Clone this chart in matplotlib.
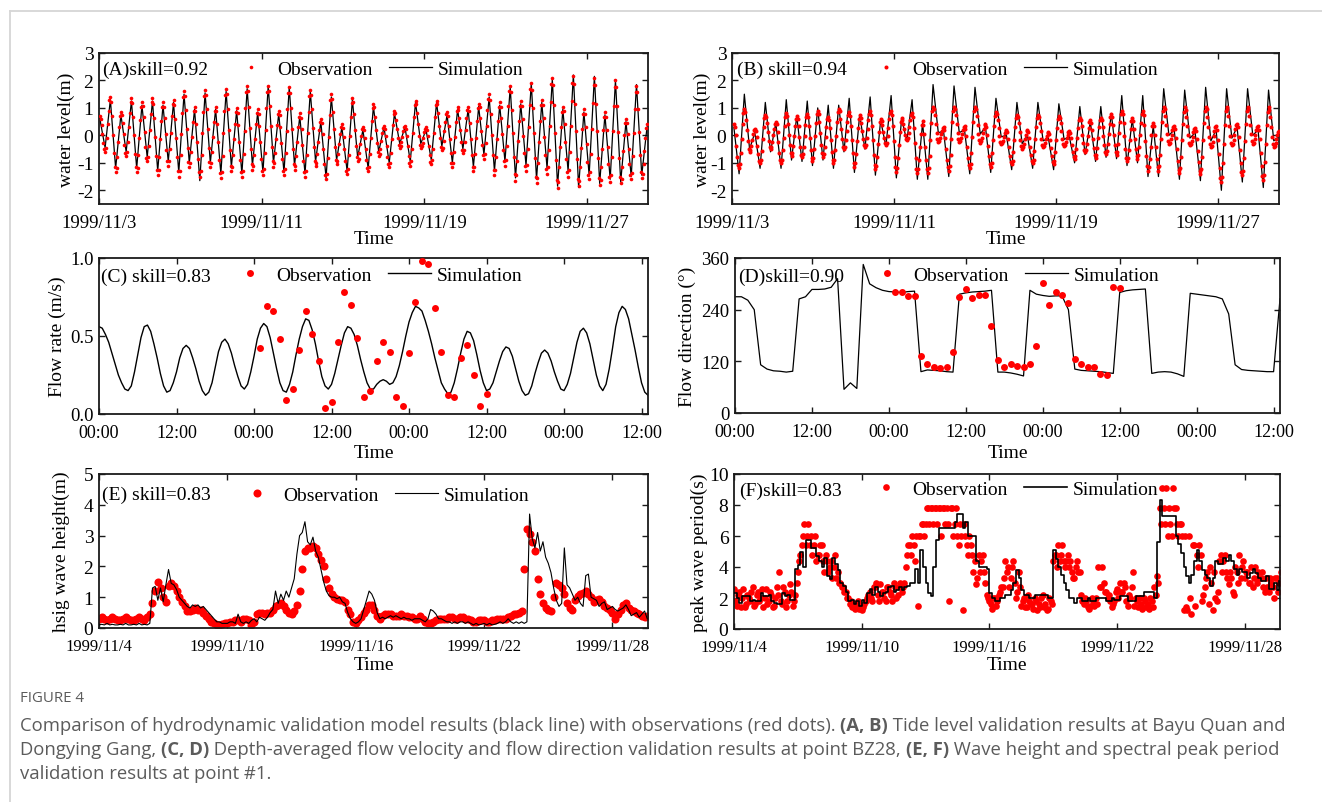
import numpy as np
import matplotlib
matplotlib.use("Agg")
import matplotlib.pyplot as plt
import matplotlib.dates as mdates
from matplotlib.lines import Line2D
from matplotlib.ticker import FixedLocator, FixedFormatter

# ---------------------------------------------------------------- data
# (A) Bayu Quan tide level: simulated high/low waters (6.21 h apart, from 01:00 on 11/3)
a_sim = [0.6, -0.45, 1.3, -1.2, 0.75, -0.6, 1.25, -1.2, 1.1, -0.8,
         1.25, -1.3, 1.1, -0.95, 1.2, -1.35, 1.5, -1.0, 0.95, -1.65,
         1.55, -1.0, 0.95, -1.4, 1.6, -1.15, 0.9, -1.4, 1.7, -1.1,
         0.85, -1.35, 1.8, -1.0, 0.8, -1.35, 1.75, -1.1, 0.7, -1.4,
         1.6, -0.95, 0.5, -1.55, 1.4, -0.9, 0.3, -1.3, 1.3, -0.8,
         0.2, -1.2, 1.05, -0.6, 0.3, -1.0, 0.8, -0.3, 0.3, -0.95,
         1.2, -0.3, 0.2, -0.9, 1.2, -0.4, 0.75, -1.0, 0.95, -0.5,
         0.95, -1.15, 1.05, -0.7, 1.4, -1.3, 1.1, -0.95, 1.75, -1.55,
         1.15, -1.1, 1.9, -1.6, 1.2, -1.2, 2.05, -1.85, 0.95, -1.3,
         2.2, -1.9, 0.85, -1.45, 2.15, -1.75, 0.75, -1.6, 2.0, -1.7,
         0.5, -1.5, 1.85, -1.45, 0.3]
# (A) observed tide level, every 2.07 h from 01:00 on 11/3
a_obs = [0.7, 0.38, -0.28, -0.6, -0.1, 0.9, 1.4, 0.71, -0.66, -1.35, -0.8, 0.3,
         0.85, 0.45, -0.35, -0.75, -0.23, 0.83, 1.35, 0.68, -0.68, -1.35, -0.71, 0.56,
         1.2, 0.66, -0.41, -0.95, -0.38, 0.78, 1.35, 0.65, -0.75, -1.45, -0.79, 0.54,
         1.2, 0.63, -0.53, -1.1, -0.5, 0.7, 1.3, 0.6, -0.8, -1.5, -0.73, 0.83,
         1.6, 0.91, -0.46, -1.15, -0.6, 0.5, 1.05, 0.41, -0.86, -1.5, -0.71, 0.86,
         1.65, 0.95, -0.45, -1.15, -0.6, 0.5, 1.05, 0.4, -0.9, -1.55, -0.74, 0.89,
         1.7, 0.95, -0.55, -1.3, -0.73, 0.43, 1.0, 0.38, -0.88, -1.5, -0.68, 0.98,
         1.8, 1.04, -0.49, -1.25, -0.7, 0.4, 0.95, 0.35, -0.85, -1.45, -0.64, 0.99,
         1.8, 1.06, -0.41, -1.15, -0.64, 0.39, 0.9, 0.31, -0.86, -1.45, -0.65, 0.95,
         1.75, 1.0, -0.5, -1.25, -0.74, 0.29, 0.8, 0.23, -0.93, -1.5, -0.71, 0.86,
         1.65, 0.96, -0.41, -1.1, -0.68, 0.18, 0.6, 0.05, -1.05, -1.6, -0.83, 0.73,
         1.5, 0.86, -0.41, -1.05, -0.69, 0.04, 0.4, -0.05, -0.95, -1.4, -0.71, 0.66,
         1.35, 0.78, -0.38, -0.95, -0.64, -0.01, 0.3, -0.1, -0.9, -1.3, -0.69, 0.54,
         1.15, 0.68, -0.28, -0.75, -0.48, 0.08, 0.35, -0.03, -0.78, -1.15, -0.64, 0.39,
         0.9, 0.56, -0.11, -0.45, -0.25, 0.15, 0.35, -0.01, -0.74, -1.1, -0.51, 0.66,
         1.25, 0.83, -0.03, -0.45, -0.26, 0.11, 0.3, -0.04, -0.71, -1.05, -0.48, 0.68,
         1.25, 0.8, -0.1, -0.55, -0.2, 0.5, 0.85, 0.35, -0.65, -1.15, -0.6, 0.5,
         1.05, 0.63, -0.23, -0.65, -0.23, 0.63, 1.05, 0.46, -0.71, -1.3, -0.69, 0.54,
         1.15, 0.65, -0.35, -0.85, -0.26, 0.91, 1.5, 0.76, -0.71, -1.45, -0.79, 0.54,
         1.2, 0.63, -0.53, -1.1, -0.38, 1.08, 1.8, 0.94, -0.79, -1.65, -0.93, 0.53,
         1.25, 0.61, -0.66, -1.3, -0.5, 1.1, 1.9, 0.99, -0.84, -1.75, -0.99, 0.54,
         1.3, 0.63, -0.73, -1.4, -0.53, 1.23, 2.1, 1.1, -0.9, -1.9, -1.16, 0.31,
         1.05, 0.41, -0.86, -1.5, -0.59, 1.24, 2.15, 1.15, -0.85, -1.85, -1.15, 0.25,
         0.95, 0.31, -0.96, -1.6, -0.68, 1.18, 2.1, 1.13, -0.83, -1.8, -1.14, 0.19,
         0.85, 0.21, -1.06, -1.7, -0.78, 1.08, 2.0, 1.06, -0.81, -1.75, -1.16, 0.01,
         0.6, 0.05, -1.05, -1.6, -0.75, 0.95, 1.8, 0.96, -0.71, -1.55, -1.06, -0.09,
         0.4]
# (A) observed tide level, the in-between readings (every 2.07 h from 02:02 on 11/3)
a_obs_mid = [0.61, 0.05, -0.51, -0.47, 0.4, 1.27, 1.22, 0.03, -1.17, -1.2, -0.25, 0.7,
             0.74, 0.05, -0.64, -0.61, 0.3, 1.21, 1.17, 0.0, -1.17, -1.18, -0.08, 1.03,
             1.06, 0.13, -0.81, -0.8, 0.2, 1.2, 1.16, -0.05, -1.26, -1.27, -0.13, 1.02,
             1.05, 0.05, -0.95, -0.94, 0.1, 1.14, 1.11, -0.1, -1.31, -1.29, 0.05, 1.39,
             1.42, 0.23, -0.97, -1.0, -0.05, 0.9, 0.88, -0.23, -1.33, -1.29, 0.08, 1.44,
             1.46, 0.25, -0.96, -1.0, -0.05, 0.9, 0.88, -0.25, -1.38, -1.33, 0.08, 1.48,
             1.5, 0.2, -1.1, -1.15, -0.15, 0.85, 0.83, -0.25, -1.33, -1.28, 0.15, 1.58,
             1.6, 0.28, -1.05, -1.1, -0.15, 0.8, 0.79, -0.25, -1.29, -1.23, 0.18, 1.58,
             1.6, 0.33, -0.95, -1.01, -0.13, 0.76, 0.74, -0.28, -1.29, -1.24, 0.15, 1.54,
             1.55, 0.25, -1.05, -1.11, -0.23, 0.66, 0.65, -0.35, -1.35, -1.29, 0.08, 1.44,
             1.47, 0.28, -0.92, -0.99, -0.25, 0.49, 0.45, -0.5, -1.45, -1.39, -0.05, 1.29,
             1.33, 0.23, -0.88, -0.95, -0.33, 0.3, 0.28, -0.5, -1.28, -1.22, -0.03, 1.17,
             1.2, 0.2, -0.8, -0.87, -0.33, 0.22, 0.19, -0.5, -1.19, -1.14, -0.08, 0.99,
             1.02, 0.2, -0.62, -0.68, -0.2, 0.28, 0.25, -0.4, -1.05, -1.01, -0.13, 0.76,
             0.81, 0.23, -0.36, -0.4, -0.05, 0.3, 0.25, -0.38, -1.0, -0.94, 0.08, 1.09,
             1.14, 0.4, -0.34, -0.4, -0.08, 0.25, 0.21, -0.38, -0.96, -0.9, 0.1, 1.1,
             1.13, 0.35, -0.43, -0.46, 0.15, 0.76, 0.72, -0.15, -1.02, -1.0, -0.05, 0.9,
             0.94, 0.2, -0.54, -0.54, 0.2, 0.94, 0.89, -0.13, -1.14, -1.14, -0.08, 0.99,
             1.02, 0.15, -0.72, -0.69, 0.33, 1.34, 1.3, 0.03, -1.25, -1.27, -0.13, 1.02,
             1.05, 0.05, -0.95, -0.91, 0.35, 1.61, 1.57, 0.08, -1.42, -1.46, -0.2, 1.06,
             1.08, -0.03, -1.13, -1.09, 0.3, 1.69, 1.66, 0.08, -1.51, -1.55, -0.23, 1.1,
             1.12, -0.05, -1.22, -1.17, 0.35, 1.87, 1.83, 0.1, -1.63, -1.7, -0.43, 0.85,
             0.88, -0.23, -1.33, -1.26, 0.33, 1.91, 1.88, 0.15, -1.58, -1.66, -0.45, 0.76,
             0.78, -0.33, -1.43, -1.35, 0.25, 1.85, 1.84, 0.15, -1.54, -1.62, -0.48, 0.67,
             0.68, -0.43, -1.53, -1.45, 0.15, 1.75, 1.75, 0.13, -1.5, -1.59, -0.58, 0.44,
             0.45, -0.5, -1.45, -1.37, 0.1, 1.57, 1.58, 0.13, -1.33, -1.42, -0.58, 0.27]

# (B) Dongying Gang tide level: simulated turning points (6.21 h apart, from 02:12 on 11/3)
b_sim = [0.3, -1.4, 1.5, -0.5, 0.1, -1.2, 1.2, -0.6, 0.45, -1.2, 1.3, -0.9,
         0.7, -0.95, 1.25, -1.1, 1.0, -0.9, 1.1, -1.2, 1.1, -0.6, 1.35, -1.35,
         0.75, -0.5, 1.4, -1.45, 0.55, -0.4, 1.45, -1.55, 0.6, -0.2, 1.3, -1.6,
         0.45, -1.6, 1.85, 0.1, 0.15, -1.5, 1.8, 0.1, 0.2, -1.4, 1.75, 0.05,
         0.3, -1.35, 1.35, -0.05, 0.0, -1.25, 1.2, -0.3, 0.0, -1.2, 1.2, -0.2,
         -0.1, -1.25, 1.15, -0.15, -0.05, -1.0, 1.05, -0.7, 0.5, -0.95, 1.05, -0.8,
         0.8, -0.85, 1.45, -1.1, 0.6, -1.0, 1.45, -1.5, 0.35, -1.5, 1.7, 0.0,
         0.2, -1.6, 1.65, -0.1, 0.1, -1.65, 1.75, -0.2, 0.2, -2.0, 1.7, -0.1,
         0.3, -1.7, 1.7, 0.0, 0.2, -1.9, 1.65, -0.2, -0.05]
# (B) observed tide level, every 2.07 h from 02:12 on 11/3
b_obs = [0.4, 0.0, -0.8, -1.2, -0.66, 0.41, 0.95, 0.56, -0.21, -0.6, -0.39, 0.04,
         0.25, -0.06, -0.69, -1.0, -0.56, 0.31, 0.75, 0.44, -0.19, -0.5, -0.25, 0.25,
         0.5, 0.13, -0.63, -1.0, -0.55, 0.35, 0.8, 0.41, -0.36, -0.75, -0.39, 0.34,
         0.7, 0.33, -0.43, -0.8, -0.41, 0.39, 0.78, 0.35, -0.52, -0.95, -0.49, 0.44,
         0.9, 0.48, -0.35, -0.77, -0.41, 0.32, 0.68, 0.26, -0.6, -1.02, -0.52, 0.47,
         0.97, 0.6, -0.14, -0.51, -0.17, 0.5, 0.84, 0.34, -0.65, -1.15, -0.68, 0.26,
         0.73, 0.44, -0.14, -0.43, -0.11, 0.55, 0.87, 0.35, -0.71, -1.23, -0.78, 0.14,
         0.59, 0.36, -0.11, -0.34, -0.03, 0.59, 0.9, 0.35, -0.77, -1.32, -0.84, 0.14,
         0.62, 0.42, 0.03, -0.17, 0.08, 0.57, 0.81, 0.27, -0.82, -1.36, -0.89, 0.05,
         0.52, 0.05, -0.89, -1.36, -0.76, 0.45, 1.05, 0.73, 0.08, -0.24, -0.1, 0.17,
         0.31, -0.09, -0.88, -1.28, -0.7, 0.47, 1.05, 0.73, 0.08, -0.24, -0.1, 0.2,
         0.34, -0.04, -0.81, -1.19, -0.63, 0.49, 1.05, 0.72, 0.06, -0.27, -0.1, 0.24,
         0.41, 0.02, -0.76, -1.15, -0.65, 0.34, 0.84, 0.55, -0.04, -0.33, -0.2, 0.07,
         0.2, -0.12, -0.75, -1.06, -0.61, 0.29, 0.74, 0.44, -0.18, -0.48, -0.31, 0.03,
         0.2, -0.11, -0.72, -1.02, -0.58, 0.3, 0.74, 0.45, -0.13, -0.42, -0.28, -0.01,
         0.13, -0.17, -0.76, -1.06, -0.62, 0.27, 0.71, 0.44, -0.12, -0.39, -0.25, 0.03,
         0.17, -0.09, -0.6, -0.85, -0.48, 0.28, 0.65, 0.34, -0.29, -0.6, -0.31, 0.26,
         0.55, 0.21, -0.47, -0.81, -0.45, 0.29, 0.65, 0.32, -0.35, -0.68, -0.32, 0.4,
         0.76, 0.39, -0.35, -0.72, -0.32, 0.5, 0.9, 0.44, -0.48, -0.94, -0.55, 0.23,
         0.62, 0.25, -0.48, -0.85, -0.41, 0.46, 0.9, 0.36, -0.74, -1.28, -0.85, 0.02,
         0.45, 0.02, -0.85, -1.28, -0.7, 0.47, 1.05, 0.71, 0.04, -0.3, -0.14, 0.18,
         0.34, -0.09, -0.94, -1.36, -0.77, 0.43, 1.02, 0.68, 0.0, -0.36, -0.2, 0.11,
         0.27, -0.15, -0.98, -1.4, -0.79, 0.44, 1.05, 0.68, -0.05, -0.42, -0.23, 0.15,
         0.34, -0.17, -1.19, -1.7, -1.01, 0.36, 1.05, 0.7, -0.01, -0.36, -0.17, 0.22,
         0.41, -0.06, -0.99, -1.45, -0.83, 0.43, 1.05, 0.71, 0.04, -0.3, -0.14, 0.18,
         0.34, -0.15, -1.13, -1.62, -0.96, 0.36, 1.02, 0.66, -0.06, -0.42, -0.27, 0.02,
         0.17]
# (B) observed tide level, the in-between readings (every 2.07 h from 03:14 on 11/3)
b_obs_mid = [0.29, -0.4, -1.09, -1.06, -0.13, 0.81, 0.85, 0.18, -0.5, -0.54, -0.18, 0.19,
             0.17, -0.38, -0.92, -0.88, -0.13, 0.63, 0.67, 0.13, -0.42, -0.43, 0.0, 0.43,
             0.4, -0.25, -0.9, -0.88, -0.1, 0.68, 0.7, 0.03, -0.65, -0.65, -0.03, 0.6,
             0.6, -0.05, -0.7, -0.69, -0.01, 0.67, 0.66, -0.09, -0.83, -0.83, -0.03, 0.78,
             0.79, 0.07, -0.66, -0.67, -0.05, 0.58, 0.57, -0.17, -0.91, -0.89, -0.03, 0.84,
             0.87, 0.23, -0.41, -0.42, 0.17, 0.75, 0.71, -0.16, -1.02, -1.02, -0.21, 0.6,
             0.65, 0.15, -0.35, -0.34, 0.22, 0.78, 0.73, -0.18, -1.09, -1.11, -0.32, 0.47,
             0.53, 0.13, -0.28, -0.26, 0.28, 0.82, 0.75, -0.21, -1.17, -1.19, -0.35, 0.49,
             0.57, 0.23, -0.12, -0.1, 0.32, 0.75, 0.66, -0.28, -1.22, -1.23, -0.42, 0.39,
             0.39, -0.42, -1.23, -1.2, -0.16, 0.89, 0.96, 0.41, -0.15, -0.2, 0.04, 0.27,
             0.2, -0.49, -1.17, -1.12, -0.12, 0.89, 0.96, 0.41, -0.15, -0.2, 0.05, 0.3,
             0.24, -0.43, -1.09, -1.04, -0.07, 0.9, 0.96, 0.39, -0.18, -0.22, 0.07, 0.36,
             0.31, -0.37, -1.05, -1.02, -0.16, 0.71, 0.76, 0.26, -0.25, -0.29, -0.07, 0.16,
             0.12, -0.43, -0.98, -0.94, -0.16, 0.62, 0.66, 0.13, -0.4, -0.43, -0.14, 0.15,
             0.12, -0.41, -0.94, -0.9, -0.14, 0.62, 0.66, 0.16, -0.34, -0.38, -0.15, 0.09,
             0.05, -0.47, -0.98, -0.94, -0.18, 0.59, 0.64, 0.16, -0.32, -0.35, -0.11, 0.13,
             0.1, -0.34, -0.78, -0.75, -0.1, 0.55, 0.57, 0.03, -0.52, -0.52, -0.03, 0.47,
             0.46, -0.13, -0.72, -0.71, -0.08, 0.55, 0.56, -0.02, -0.59, -0.58, 0.04, 0.66,
             0.66, 0.02, -0.62, -0.61, 0.09, 0.79, 0.78, -0.02, -0.82, -0.84, -0.16, 0.52,
             0.52, -0.12, -0.75, -0.73, 0.03, 0.78, 0.75, -0.19, -1.13, -1.16, -0.42, 0.33,
             0.33, -0.42, -1.16, -1.12, -0.12, 0.89, 0.96, 0.38, -0.21, -0.26, 0.02, 0.3,
             0.23, -0.51, -1.25, -1.2, -0.17, 0.86, 0.93, 0.33, -0.27, -0.32, -0.05, 0.23,
             0.16, -0.57, -1.29, -1.24, -0.18, 0.89, 0.95, 0.32, -0.32, -0.37, -0.04, 0.29,
             0.2, -0.68, -1.56, -1.52, -0.33, 0.87, 0.96, 0.35, -0.27, -0.31, 0.03, 0.36,
             0.29, -0.52, -1.33, -1.28, -0.2, 0.88, 0.96, 0.38, -0.21, -0.26, 0.02, 0.3,
             0.21, -0.64, -1.49, -1.44, -0.3, 0.84, 0.92, 0.3, -0.32, -0.38, -0.13, 0.13]

# (C) depth-averaged flow speed at BZ28, every half hour
c_sim = [0.56, 0.55, 0.51, 0.46, 0.39, 0.32, 0.25, 0.20, 0.16, 0.15,
         0.18, 0.27, 0.38, 0.49, 0.56, 0.57, 0.53, 0.45, 0.36, 0.26,
         0.18, 0.14, 0.15, 0.20, 0.27, 0.36, 0.42, 0.44, 0.42, 0.36,
         0.29, 0.21, 0.15, 0.12, 0.14, 0.20, 0.30, 0.40, 0.46, 0.48,
         0.45, 0.39, 0.31, 0.24, 0.18, 0.16, 0.19, 0.27, 0.37, 0.48,
         0.55, 0.58, 0.56, 0.49, 0.39, 0.29, 0.20, 0.15, 0.14, 0.19,
         0.27, 0.38, 0.48, 0.56, 0.61, 0.60, 0.54, 0.45, 0.34, 0.24,
         0.18, 0.16, 0.19, 0.26, 0.35, 0.44, 0.52, 0.56, 0.55, 0.51,
         0.44, 0.35, 0.27, 0.20, 0.16, 0.16, 0.19, 0.21, 0.22, 0.21,
         0.19, 0.20, 0.24, 0.31, 0.40, 0.50, 0.59, 0.65, 0.69, 0.68,
         0.66, 0.60, 0.53, 0.45, 0.36, 0.28, 0.20, 0.16, 0.13, 0.14,
         0.20, 0.29, 0.39, 0.48, 0.53, 0.52, 0.47, 0.38, 0.28, 0.20,
         0.15, 0.16, 0.20, 0.27, 0.34, 0.40, 0.43, 0.42, 0.37, 0.29,
         0.21, 0.15, 0.12, 0.13, 0.18, 0.26, 0.33, 0.39, 0.41, 0.39,
         0.34, 0.27, 0.21, 0.16, 0.15, 0.19, 0.26, 0.36, 0.46, 0.53,
         0.55, 0.52, 0.45, 0.35, 0.25, 0.18, 0.15, 0.19, 0.29, 0.42,
         0.56, 0.65, 0.69, 0.67, 0.61, 0.51, 0.41, 0.30, 0.20, 0.14,
         0.12]
c_obs_start = 25
c_obs = [0.42, 0.69, 0.66, 0.48, 0.09, 0.16, 0.41, 0.66, 0.51, 0.34, 0.04, 0.08,
         0.46, 0.78, 0.70, 0.49, 0.11, 0.15, 0.34, 0.46, 0.40, 0.11, 0.05, 0.39,
         0.72, 0.98, 0.96, 0.68, 0.40, 0.12, 0.11, 0.36, 0.44, 0.25, 0.05, 0.13]

# (D) flow direction at BZ28, hourly (degrees)
d_sim = [270, 270, 262, 240, 112, 102, 98, 97, 95, 97,
         265, 270, 287, 287, 288, 292, 312, 55, 70, 57,
         345, 300, 291, 285, 282, 281, 280, 282, 283, 96,
         100, 99, 98, 96, 95, 276, 279, 281, 282, 283,
         285, 95, 95, 93, 90, 86, 285, 276, 273, 271,
         272, 272, 240, 102, 99, 98, 97, 96, 94, 92,
         280, 284, 286, 287, 288, 92, 95, 96, 95, 91,
         85, 278, 276, 274, 272, 270, 265, 230, 112, 101,
         99, 98, 97, 96, 96, 265]
d_obs_start = 25
d_obs = [282, 282, 272, 272, 133, 114, 107, 104, 107, 141, 270, 287,
         267, 273, 275, 201, 124, 107, 114, 109, 107, 114, 155, 303,
         251, 280, 274, 256, 125, 113, 108, 108, 91, 89, 292, 290]
cd_ticks = [0, 12, 24, 36, 48, 60, 72, 84]
cd_tick_labels = ["00:00", "12:00", "00:00", "12:00", "00:00", "12:00", "00:00", "12:00"]

# (E) significant wave height at point #1, 3-hourly from 11/4
e_obs = [0.3, 0.35, 0.3, 0.25, 0.3, 0.35, 0.3, 0.25,
         0.25, 0.3, 0.35, 0.3, 0.25, 0.25, 0.3, 0.35,
         0.3, 0.25, 0.35, 0.45, 0.8, 1.2, 1.5, 1.3,
         1.0, 0.85, 1.35, 1.45, 1.35, 1.2, 1.0, 0.85,
         0.7, 0.55, 0.55, 0.6, 0.65, 0.6, 0.6, 0.5,
         0.4, 0.3, 0.2, 0.15, 0.1, 0.1, 0.12, 0.15,
         0.15, 0.2, 0.2, 0.25, 0.25, 0.2, 0.3, 0.3,
         0.25, 0.1, 0.2, 0.45, 0.5, 0.5, 0.45, 0.5,
         0.5, 0.6, 0.7, 0.75, 0.8, 0.7, 0.6, 0.5,
         0.45, 0.55, 0.75, 1.2, 1.9, 2.5, 2.6, 2.6,
         2.65, 2.6, 2.4, 2.2, 2.0, 1.6, 1.3, 1.1,
         1.0, 0.95, 0.9, 0.9, 0.85, 0.6, 0.45, 0.2,
         0.15, 0.25, 0.35, 0.5, 0.6, 0.75, 0.75, 0.6,
         0.4, 0.3, 0.4, 0.45, 0.45, 0.45, 0.4, 0.4,
         0.4, 0.45, 0.4, 0.4, 0.35, 0.35, 0.3, 0.3,
         0.4, 0.3, 0.2, 0.15, 0.15, 0.2, 0.25, 0.3,
         0.3, 0.3, 0.3, 0.35, 0.35, 0.3, 0.3, 0.35,
         0.35, 0.3, 0.3, 0.25, 0.2, 0.2, 0.25, 0.25,
         0.25, 0.2, 0.2, 0.25, 0.25, 0.3, 0.3, 0.3,
         0.3, 0.35, 0.4, 0.45, 0.45, 0.5, 0.55, 1.9,
         3.2, 3.05, 2.8, 2.5, 1.6, 1.1, 0.8, 0.65,
         0.6, 0.55, 1.0, 1.45, 1.4, 1.3, 1.1, 0.8,
         0.65, 0.6, 0.9, 1.05, 1.1, 1.15, 1.2, 1.1,
         1.0, 0.85, 0.9, 0.95, 0.85, 0.7, 0.65, 0.6,
         0.5, 0.3, 0.45, 0.6, 0.75, 0.8, 0.65, 0.6,
         0.55, 0.5, 0.45, 0.4, 0.35, 0.4]
e_sim = [0.1, 0.12, 0.1, 0.15, 0.1, 0.12, 0.1, 0.1,
         0.12, 0.1, 0.15, 0.1, 0.1, 0.12, 0.1, 0.15,
         0.1, 0.12, 0.1, 0.15, 1.3, 1.35, 0.9, 1.3,
         0.85, 1.4, 1.9, 1.45, 1.4, 1.25, 1.0, 0.9,
         0.8, 0.7, 0.65, 0.75, 0.7, 0.75, 0.65, 0.7,
         0.6, 0.5, 0.4, 0.3, 0.2, 0.2, 0.15, 0.15,
         0.15, 0.2, 0.2, 0.15, 0.45, 0.2, 0.15, 0.2,
         0.15, 0.25, 0.3, 0.2, 0.35, 0.3, 0.25, 0.35,
         0.5, 0.6, 1.2, 0.8, 1.1, 0.9, 1.2, 1.0,
         1.3, 1.6, 2.4, 3.0, 3.1, 3.45, 2.8, 2.7,
         2.95, 2.5, 2.3, 1.9, 1.5, 1.2, 1.05, 1.0,
         1.0, 0.95, 1.0, 0.85, 0.8, 0.5, 0.3, 0.2,
         0.15, 0.2, 0.3, 0.6, 0.9, 1.2, 1.1, 0.9,
         0.5, 0.3, 0.35, 0.3, 0.35, 0.4, 0.35, 0.4,
         0.35, 0.3, 0.35, 0.3, 0.3, 0.25, 0.3, 0.3,
         0.3, 0.25, 0.2, 0.3, 0.6, 0.55, 0.45, 0.3,
         0.3, 0.25, 0.2, 0.2, 0.15, 0.2, 0.15, 0.2,
         0.2, 0.15, 0.2, 0.15, 0.1, 0.15, 0.1, 0.12,
         0.15, 0.1, 0.15, 0.1, 0.12, 0.15, 0.2, 0.15,
         0.2, 0.3, 0.2, 0.15, 0.2, 0.15, 0.2, 0.15,
         0.2, 3.7, 2.9, 2.6, 3.1, 2.5, 2.8, 2.3,
         2.1, 1.8, 1.3, 0.9, 0.7, 0.8, 2.6, 1.4,
         1.3, 1.1, 0.9, 1.0, 0.8, 0.7, 1.7, 1.75,
         1.0, 0.95, 0.9, 0.7, 0.8, 0.85, 0.6, 0.65,
         0.7, 0.6, 0.55, 0.6, 0.65, 0.75, 0.6, 0.4,
         0.45, 0.5, 0.35, 0.45, 0.55, 0.3]

# (F) spectral peak period at point #1, 3-hourly from 11/4 (two readings per step)
f_obs = [2.6, 1.5, 2.4, 2.0, 1.4, 2.2, 1.8, 2.7,
         1.6, 2.4, 2.0, 1.4, 2.6, 1.8, 2.2, 1.5,
         2.7, 3.7, 1.6, 2.4, 1.8, 2.9, 1.5, 2.2,
         3.7, 4.8, 6.0, 5.4, 6.8, 6.0, 5.4, 4.4,
         4.8, 5.4, 3.7, 4.4, 4.0, 3.3, 4.8, 3.7,
         3.0, 2.7, 2.4, 2.0, 1.8, 1.6, 1.4, 1.3,
         1.2, 1.6, 2.0, 2.4, 1.8, 2.7, 2.2, 2.9,
         2.4, 1.8, 2.7, 2.2, 3.0, 2.0, 2.7, 2.4,
         3.0, 4.8, 5.4, 6.0, 4.4, 1.5, 6.0, 6.8,
         6.8, 7.8, 7.8, 6.8, 7.8, 7.8, 6.0, 7.8,
         7.8, 1.8, 7.8, 6.8, 6.0, 6.8, 1.2, 6.0,
         4.8, 5.4, 3.7, 2.9, 4.8, 4.4, 3.7, 2.2,
         1.8, 1.3, 2.0, 1.8, 2.4, 2.7, 4.4, 4.0,
         3.3, 4.4, 2.0, 3.7, 1.5, 2.0, 1.4, 1.8,
         1.6, 2.0, 1.2, 1.4, 2.2, 1.6, 1.3, 1.8,
         4.4, 4.8, 5.4, 4.8, 4.4, 4.4, 4.0, 3.7,
         3.3, 4.4, 3.7, 1.8, 2.0, 1.4, 1.5, 1.8,
         2.0, 4.0, 2.7, 3.0, 2.4, 2.2, 1.4, 1.8,
         2.6, 3.0, 2.4, 2.7, 1.5, 2.0, 3.7, 2.0,
         1.4, 1.6, 2.0, 1.4, 1.3, 1.8, 2.7, 3.4,
         7.8, 9.1, 6.8, 6.0, 6.8, 9.1, 7.8, 6.0,
         6.8, 1.2, 1.4, 6.0, 1.0, 5.4, 4.8, 5.4,
         1.8, 2.7, 3.7, 4.0, 1.2, 2.0, 2.4, 4.8,
         4.4, 3.7, 2.9, 3.3, 2.2, 3.7, 4.8, 4.0,
         3.3, 3.7, 3.0, 2.7, 4.0, 3.7, 3.3, 2.7,
         3.3, 2.4, 3.0, 2.0, 3.3, 3.0]
f_obs_mid = [1.8, 2.2, 1.4, 2.6, 1.6, 2.0, 2.4, 1.5,
             2.2, 1.8, 2.6, 2.0, 1.6, 2.4, 1.4, 2.0,
             2.2, 1.8, 2.7, 1.4, 2.2, 2.4, 1.8, 3.0,
             4.4, 5.4, 6.8, 6.0, 5.4, 4.8, 6.0, 4.8,
             5.4, 4.4, 4.8, 3.7, 4.4, 4.0, 3.3, 3.0,
             2.7, 2.4, 2.0, 1.6, 1.4, 1.3, 1.8, 1.5,
             1.4, 1.8, 2.2, 2.0, 2.7, 3.0, 1.8, 2.4,
             2.0, 2.7, 2.4, 1.8, 2.7, 2.2, 3.0, 2.7,
             4.0, 5.4, 4.8, 5.4, 6.0, 6.0, 6.8, 6.0,
             7.8, 6.8, 7.8, 7.8, 6.8, 7.8, 7.8, 6.8,
             6.8, 7.8, 6.0, 7.8, 5.4, 6.0, 6.8, 5.4,
             6.0, 4.8, 4.4, 3.3, 3.7, 4.8, 3.0, 2.0,
             1.6, 2.0, 1.5, 2.2, 2.7, 3.3, 3.7, 2.7,
             4.0, 3.0, 2.4, 2.7, 1.8, 1.4, 2.2, 1.6,
             1.3, 1.8, 1.6, 2.0, 1.4, 1.2, 2.0, 1.6,
             4.8, 4.0, 4.4, 5.4, 4.0, 4.8, 4.4, 3.3,
             4.0, 3.7, 2.2, 1.6, 1.8, 1.3, 2.0, 1.5,
             1.6, 2.7, 4.0, 2.4, 2.0, 1.8, 1.6, 2.4,
             2.0, 2.4, 3.0, 1.8, 2.2, 2.7, 1.5, 1.8,
             2.0, 1.3, 1.8, 1.6, 2.0, 1.4, 2.2, 3.0,
             6.8, 7.8, 9.1, 7.8, 6.0, 7.8, 6.8, 6.8,
             6.0, 6.0, 1.2, 2.0, 5.4, 1.5, 4.0, 4.8,
             2.2, 3.3, 1.6, 3.0, 3.7, 1.8, 4.4, 3.7,
             4.8, 3.3, 3.7, 2.4, 4.0, 3.0, 3.3, 4.4,
             3.7, 3.0, 4.0, 3.3, 3.0, 3.3, 3.7, 2.4,
             2.7, 3.3, 2.7, 3.3, 2.4, 3.7]
f_sim = [2.3, 2.0, 1.7, 2.1, 2.1, 2.1, 1.8, 1.9,
         1.8, 1.8, 2.3, 2.1, 2.1, 2.2, 1.8, 1.7,
         1.6, 1.6, 2.3, 2.1, 2.2, 1.9, 1.9, 3.9,
         4.1, 5.0, 4.0, 5.75, 5.75, 5.25, 5.2, 4.7,
         4.4, 4.0, 4.6, 3.4, 3.2, 4.6, 4.2, 3.8,
         3.0, 2.8, 2.4, 1.8, 1.9, 1.6, 1.8, 1.5,
         1.9, 1.7, 2.3, 2.6, 2.2, 2.7, 2.4, 2.1,
         2.3, 2.4, 2.7, 2.8, 2.4, 2.5, 2.7, 2.5,
         2.7, 2.8, 3.0, 3.0, 3.9, 3.0, 5.1, 4.0,
         3.0, 2.3, 2.1, 4.0, 5.75, 6.5, 6.5, 6.5,
         6.5, 6.5, 6.5, 6.9, 7.4, 7.4, 6.5, 6.9,
         6.0, 6.0, 6.0, 4.4, 4.0, 4.0, 4.0, 3.9,
         2.3, 2.0, 1.8, 1.8, 2.0, 2.0, 2.2, 2.2,
         2.5, 3.0, 3.8, 3.3, 2.5, 2.2, 2.2, 2.0,
         2.0, 2.2, 2.2, 2.2, 2.2, 2.2, 2.0, 2.0,
         5.1, 4.5, 4.0, 3.5, 3.0, 2.5, 2.0, 2.0,
         1.7, 2.0, 2.0, 1.8, 1.8, 2.0, 1.8, 1.8,
         2.0, 2.0, 2.0, 2.0, 1.8, 1.8, 2.0, 1.9,
         1.9, 2.1, 2.1, 2.1, 1.8, 1.8, 1.8, 2.1,
         2.1, 2.1, 2.4, 2.4, 2.4, 2.4, 2.0, 5.6,
         8.3, 7.3, 7.3, 7.3, 7.3, 7.3, 6.0, 5.5,
         4.9, 4.0, 3.4, 3.0, 3.5, 4.4, 5.1, 4.4,
         3.8, 3.5, 3.3, 2.8, 3.3, 4.4, 4.2, 4.2,
         4.6, 4.4, 4.8, 4.4, 3.9, 3.5, 3.9, 3.7,
         3.7, 3.3, 3.6, 3.9, 3.6, 3.3, 3.1, 3.1,
         3.4, 2.6, 2.6, 3.0, 2.5, 3.1]

ab_tick_dates = ["1999-11-03", "1999-11-11", "1999-11-19", "1999-11-27"]
ab_tick_labels = ["1999/11/3", "1999/11/11", "1999/11/19", "1999/11/27"]
ef_tick_dates = ["1999-11-04", "1999-11-10", "1999-11-16", "1999-11-22", "1999-11-28"]
ef_tick_labels = ["1999/11/4", "1999/11/10", "1999/11/16", "1999/11/22", "1999/11/28"]

# ---------------------------------------------------------------- style
W, H = 1322, 803
plt.rcParams["font.family"] = ["Liberation Serif", "DejaVu Serif"]
plt.rcParams["axes.unicode_minus"] = False
RED = "#ff0000"
INK = "#1a1a1a"

fig = plt.figure(figsize=(W / 100, H / 100), dpi=100)
fig.patch.set_facecolor("white")


def box(l, r, t, b):
    return fig.add_axes([l / W, 1 - b / H, (r - l) / W, (b - t) / H])


def dress(ax, xfs, yfs, ylab, ylab_x, time_y, bottom, top, left, right):
    ax.tick_params(direction="in", top=True, right=True, length=4.5, width=1.0, color=INK)
    ax.tick_params(axis="x", labelsize=xfs, pad=7.0)
    ax.tick_params(axis="y", labelsize=yfs, pad=4)
    for s in ax.spines.values():
        s.set_linewidth(1.3)
        s.set_color(INK)
    ax.set_ylabel(ylab, fontsize=14)
    ax.yaxis.set_label_coords((ylab_x - left) / (right - left), 0.5)
    ax.yaxis.label.set_va("center")
    ax.set_xlabel("Time", fontsize=14)
    ax.xaxis.set_label_coords(0.5, -(time_y - bottom) / (bottom - top))
    ax.xaxis.label.set_va("center")


def skill(x, y, s):
    fig.text(x / W, 1 - y / H, s, fontsize=14, ha="left", va="center")


def legend(ax, h_obs, h_sim, mx, my):
    hl = 2.25
    x0 = mx - 0.5 * hl * 14 * 100 / 72
    ax.legend([h_obs, h_sim], ["Observation", "Simulation"], ncol=2,
              loc="center left", bbox_to_anchor=(x0 / W, 1 - my / H),
              bbox_transform=fig.transFigure, frameon=False, fontsize=14,
              handlelength=hl, handletextpad=0.25, columnspacing=0.8,
              borderpad=0, borderaxespad=0, numpoints=1)


def date_axis(ax, start, span_days, tick_dates, tick_labels):
    t0 = mdates.datestr2num(start)
    ax.set_xlim(t0, t0 + span_days)
    ax.xaxis.set_major_locator(FixedLocator([mdates.datestr2num(d) for d in tick_dates]))
    ax.xaxis.set_major_formatter(FixedFormatter(tick_labels))
    return t0


# ---------------------------------------------------------------- (A)
L, R, T, B = 99, 648, 54, 205
ax = box(L, R, T, B)
t0 = date_axis(ax, "1999-11-03", 27.0, ab_tick_dates, ab_tick_labels)
ts = t0 + (1.0 + 6.21 * np.arange(len(a_sim))) / 24
to = t0 + (1.0 + 2.07 * np.arange(len(a_obs))) / 24
tm = t0 + (2.035 + 2.07 * np.arange(len(a_obs_mid))) / 24
h_sim, = ax.plot(ts, a_sim, color="black", lw=0.9, zorder=2)
h_obs, = ax.plot(to, a_obs, ls="none", marker="o", ms=2.6, mew=0, color=RED, zorder=3)
ax.plot(tm, a_obs_mid, ls="none", marker="o", ms=2.6, mew=0, color=RED, zorder=3)
ax.set_ylim(-2.5, 3)
ax.set_yticks([-2, -1, 0, 1, 2, 3])
dress(ax, 13.5, 14, "water level(m)", 66, 239, B, T, L, R)
skill(102, 70, "(A)skill=0.92")
legend(ax, h_obs, h_sim, 251, 70)

# ---------------------------------------------------------------- (B)
L, R, T, B = 732, 1279, 54, 205
ax = box(L, R, T, B)
t0 = date_axis(ax, "1999-11-03", 27.0, ab_tick_dates, ab_tick_labels)
ts = t0 + (2.2 + 6.21 * np.arange(len(b_sim))) / 24
to = t0 + (2.2 + 2.07 * np.arange(len(b_obs))) / 24
tm = t0 + (3.235 + 2.07 * np.arange(len(b_obs_mid))) / 24
h_sim, = ax.plot(ts, b_sim, color="black", lw=0.9, zorder=2)
h_obs, = ax.plot(to, b_obs, ls="none", marker="o", ms=2.9, mew=0, color=RED, zorder=3)
ax.plot(tm, b_obs_mid, ls="none", marker="o", ms=2.9, mew=0, color=RED, zorder=3)
ax.set_ylim(-2.5, 3)
ax.set_yticks([-2, -1, 0, 1, 2, 3])
dress(ax, 13.5, 14, "water level(m)", 702, 239, B, T, L, R)
skill(737, 70, "(B) skill=0.94")
legend(ax, h_obs, h_sim, 886, 70)

# ---------------------------------------------------------------- (C)
L, R, T, B = 99, 648, 259, 415
ax = box(L, R, T, B)
h_sim, = ax.plot(0.5 * np.arange(len(c_sim)), c_sim, color="black", lw=1.0, zorder=2)
h_obs, = ax.plot(c_obs_start + np.arange(len(c_obs)), c_obs, ls="none", marker="o",
                 ms=5.0, mew=0, color=RED, zorder=3)
ax.set_xlim(0, 85)
ax.set_ylim(0, 1.0)
ax.xaxis.set_major_locator(FixedLocator(cd_ticks))
ax.xaxis.set_major_formatter(FixedFormatter(cd_tick_labels))
ax.set_yticks([0, 0.5, 1.0])
ax.set_yticklabels(["0.0", "0.5", "1.0"])
dress(ax, 13, 13.5, "Flow rate (m/s)", 57, 454, B, T, L, R)
skill(101, 277, "(C) skill=0.83")
legend(ax, h_obs, h_sim, 250, 276)

# ---------------------------------------------------------------- (D)
L, R, T, B = 735, 1280, 259, 414
ax = box(L, R, T, B)
h_sim, = ax.plot(np.arange(len(d_sim)), d_sim, color="black", lw=0.9, zorder=2)
h_obs, = ax.plot(d_obs_start + np.arange(len(d_obs)), d_obs, ls="none", marker="o",
                 ms=5.0, mew=0, color=RED, zorder=3)
ax.set_xlim(0, 85)
ax.set_ylim(0, 360)
ax.xaxis.set_major_locator(FixedLocator(cd_ticks))
ax.xaxis.set_major_formatter(FixedFormatter(cd_tick_labels))
ax.set_yticks([0, 120, 240, 360])
dress(ax, 13, 13.5, "Flow direction (\u00b0)", 687, 454, B, T, L, R)
skill(738, 277, "(D)skill=0.90")
legend(ax, h_obs, h_sim, 887, 276)

# ---------------------------------------------------------------- (E)
L, R, T, B = 99, 648, 475, 629
ax = box(L, R, T, B)
t0 = date_axis(ax, "1999-11-04", 25.66, ef_tick_dates, ef_tick_labels)
h_obs, = ax.plot(t0 + 3.0 * np.arange(len(e_obs)) / 24, e_obs, ls="none", marker="o",
                 ms=5.8, mew=0, color=RED, zorder=2)
h_sim, = ax.plot(t0 + 3.0 * np.arange(len(e_sim)) / 24, e_sim, color="black", lw=0.8, zorder=3)
ax.set_ylim(0, 5)
ax.set_yticks([0, 1, 2, 3, 4, 5])
dress(ax, 12, 14, "hsig wave height(m)", 61, 666, B, T, L, R)
skill(102, 495, "(E) skill=0.83")
legend(ax, h_obs, h_sim, 257, 496)

# ---------------------------------------------------------------- (F)
L, R, T, B = 734, 1280, 475, 630
ax = box(L, R, T, B)
t0 = date_axis(ax, "1999-11-04", 25.66, ef_tick_dates, ef_tick_labels)
h_obs, = ax.plot(t0 + 3.0 * np.arange(len(f_obs)) / 24, f_obs, ls="none", marker="o",
                 ms=4.8, mew=0, color=RED, zorder=2)
ax.plot(t0 + (1.5 + 3.0 * np.arange(len(f_obs_mid))) / 24, f_obs_mid, ls="none", marker="o",
        ms=4.8, mew=0, color=RED, zorder=2)
h_sim, = ax.plot(t0 + 3.0 * np.arange(len(f_sim)) / 24, f_sim, color="black", lw=1.2,
                 drawstyle="steps-post", zorder=3)
ax.set_ylim(0, 10)
ax.set_yticks([0, 2, 4, 6, 8, 10])
dress(ax, 12, 14, "peak wave period(s)", 699, 666, B, T, L, R)
skill(739, 491, "(F)skill=0.83")
legend(ax, h_obs, h_sim, 886, 490)

# ---------------------------------------------------------------- frame
fig.add_artist(Line2D([10 / W, 1.0], [1 - 12 / H, 1 - 12 / H], transform=fig.transFigure,
                      color="#d6d6d6", lw=1.3))
fig.add_artist(Line2D([10 / W, 10 / W], [1 - 12 / H, 0.0], transform=fig.transFigure,
                      color="#d6d6d6", lw=1.3))

# ---------------------------------------------------------------- caption
CAP_FONT = ["Open Sans", "DejaVu Sans"]
CAP_COLOR = "#5b5b5b"
CAP_SIZE = 13.3
renderer = fig.canvas.get_renderer()


def run_width(s, weight):
    a = fig.text(0, 0, "|" + s + "|", fontsize=CAP_SIZE, fontweight=weight, family=CAP_FONT)
    b = fig.text(0, 0, "||", fontsize=CAP_SIZE, fontweight=weight, family=CAP_FONT)
    w = a.get_window_extent(renderer).width - b.get_window_extent(renderer).width
    a.remove()
    b.remove()
    return w


def caption_line(x, y, runs):
    for s, weight in runs:
        fig.text(x / W, 1 - y / H, s, fontsize=CAP_SIZE, fontweight=weight,
                 family=CAP_FONT, color=CAP_COLOR, ha="left", va="center")
        x += run_width(s, weight)


fig.text(20 / W, 1 - 699 / H, "FIGURE 4", fontsize=10.8, family=CAP_FONT,
         color=CAP_COLOR, ha="left", va="center")
caption_line(20, 726, [
    ("Comparison of hydrodynamic validation model results (black line) with observations (red dots). ", "normal"),
    ("(A, B)", "bold"),
    (" Tide level validation results at Bayu Quan and", "normal")])
caption_line(20, 750, [
    ("Dongying Gang, ", "normal"),
    ("(C, D)", "bold"),
    (" Depth-averaged flow velocity and flow direction validation results at point BZ28, ", "normal"),
    ("(E, F)", "bold"),
    (" Wave height and spectral peak period", "normal")])
caption_line(20, 774, [("validation results at point #1.", "normal")])

fig.savefig("out.png", dpi=100, facecolor="white")
